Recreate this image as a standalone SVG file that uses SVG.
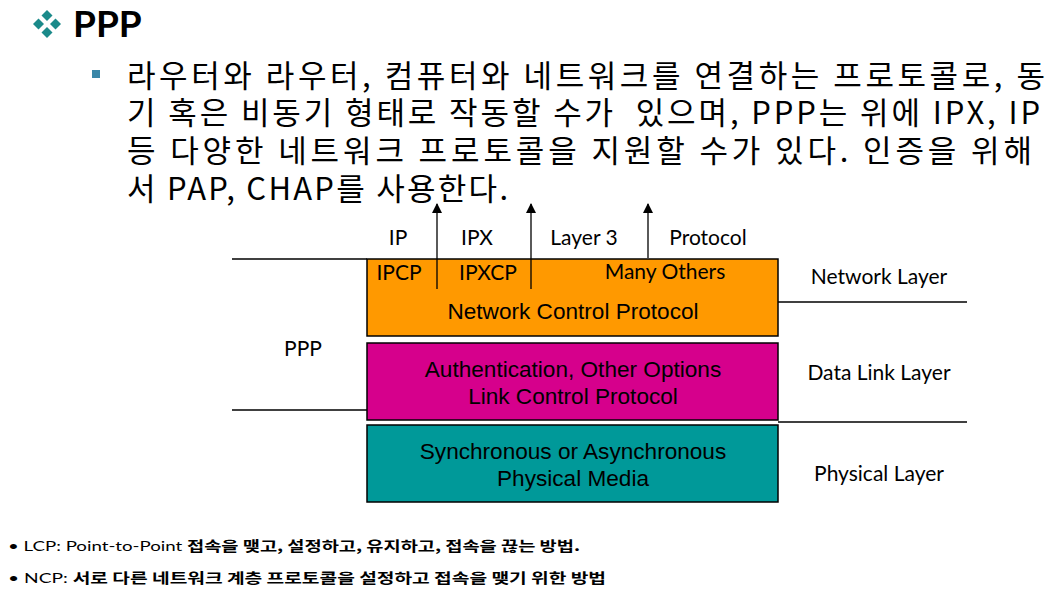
<svg xmlns="http://www.w3.org/2000/svg" width="1048" height="599" viewBox="0 0 1048 599">
<defs>
<style>
.ko{font-family:"Noto Sans CJK KR","Noto Sans",sans-serif;font-size:31px;fill:#000}
.gs{font-family:Lato,"Noto Sans",sans-serif;font-size:21px;fill:#000}
.ar{font-family:"Liberation Sans",Arial,sans-serif;font-size:22.6px;fill:#000}
.note{font-family:Lato,"Noto Sans CJK KR",sans-serif;font-size:14px;fill:#000}
.nk{font-family:"Noto Sans CJK KR",sans-serif;font-weight:bold}
.box{stroke:#000;stroke-width:1.5}
.ln{stroke:#000;stroke-width:1.3;fill:none}
</style>
<marker id="ah" viewBox="0 0 10 10" refX="9" refY="5" markerWidth="10" markerHeight="10" markerUnits="userSpaceOnUse" orient="auto">
<path d="M0,0 L10,5 L0,10 z" fill="#000"/>
</marker>
</defs>
<rect width="1048" height="599" fill="#fff"/>

<g id="title">
<g fill="#1b8a8a">
<path d="M47,10 L52.5,15.5 L47,21 L41.5,15.5 z"/>
<path d="M38.5,18.5 L44,24 L38.5,29.5 L33,24 z"/>
<path d="M55.5,18.5 L61,24 L55.5,29.5 L50,24 z"/>
<path d="M47,27 L52.5,32.5 L47,38 L41.5,32.5 z"/>
</g>
<text x="73" y="37" font-family="Lato,'Noto Sans',sans-serif" font-weight="bold" font-size="37">PPP</text>
</g>

<g id="body">
<rect x="92" y="70" width="8" height="8" fill="#3a87a8"/>
<text class="ko" x="127" y="87" textLength="918" lengthAdjust="spacing">라우터와 라우터, 컴퓨터와 네트워크를 연결하는 프로토콜로, 동</text>
<text class="ko" x="127" y="124" textLength="913" lengthAdjust="spacing" xml:space="preserve">기 혹은 비동기 형태로 작동할 수가  있으며, PPP는 위에 IPX, IP</text>
<text class="ko" x="127" y="162" textLength="905" lengthAdjust="spacing">등 다양한 네트워크 프로토콜을 지원할 수가 있다. 인증을 위해</text>
<text class="ko" x="127" y="200" textLength="381" lengthAdjust="spacing">서 PAP, CHAP를 사용한다.</text>
</g>

<g id="side-lines">
<line class="ln" x1="232" y1="259" x2="367" y2="259"/>
<line class="ln" x1="232" y1="410" x2="367" y2="410"/>
<line class="ln" x1="778" y1="302" x2="967" y2="302"/>
<line class="ln" x1="778" y1="422" x2="967" y2="422"/>
</g>

<g id="ncp">
<rect class="box" x="367" y="259" width="411" height="77" fill="#ff9900"/>
<text class="gs" x="399" y="280" text-anchor="middle">IPCP</text>
<text class="gs" x="488" y="280" text-anchor="middle">IPXCP</text>
<text class="gs" x="665" y="279" text-anchor="middle">Many Others</text>
<text class="ar" x="573" y="319" text-anchor="middle">Network Control Protocol</text>
</g>

<g id="lcp">
<rect class="box" x="367" y="343" width="411" height="77" fill="#d6008c"/>
<text class="ar" x="573" y="377" text-anchor="middle">Authentication, Other Options</text>
<text class="ar" x="573" y="404" text-anchor="middle">Link Control Protocol</text>
</g>

<g id="phys">
<rect class="box" x="367" y="425" width="411" height="77" fill="#009999"/>
<text class="ar" x="573" y="459" text-anchor="middle">Synchronous or Asynchronous</text>
<text class="ar" x="573" y="486" text-anchor="middle">Physical Media</text>
</g>

<g id="connectors">
<line class="ln" x1="437" y1="289" x2="437" y2="204" marker-end="url(#ah)"/>
<line class="ln" x1="531" y1="289" x2="531" y2="204" marker-end="url(#ah)"/>
<line class="ln" x1="648" y1="258" x2="648" y2="204" marker-end="url(#ah)"/>
</g>

<g id="labels">
<text class="gs" x="398" y="245" text-anchor="middle">IP</text>
<text class="gs" x="477" y="245" text-anchor="middle">IPX</text>
<text class="gs" x="584" y="245" text-anchor="middle">Layer 3</text>
<text class="gs" x="708" y="245" text-anchor="middle">Protocol</text>
<text class="gs" x="303" y="356" text-anchor="middle">PPP</text>
<text class="gs" x="879" y="284" text-anchor="middle">Network Layer</text>
<text class="gs" x="879" y="380" text-anchor="middle">Data Link Layer</text>
<text class="gs" x="879" y="481" text-anchor="middle">Physical Layer</text>
</g>

<g id="notes">
<text class="note" x="8" y="551" textLength="572" lengthAdjust="spacingAndGlyphs">• LCP: Point-to-Point <tspan class="nk">접속을 맺고, 설정하고, 유지하고, 접속을 끊는 방법.</tspan></text>
<text class="note" x="8" y="583" textLength="598" lengthAdjust="spacingAndGlyphs">• NCP: <tspan class="nk">서로 다른 네트워크 계층 프로토콜을 설정하고 접속을 맺기 위한 방법</tspan></text>
</g>
</svg>
